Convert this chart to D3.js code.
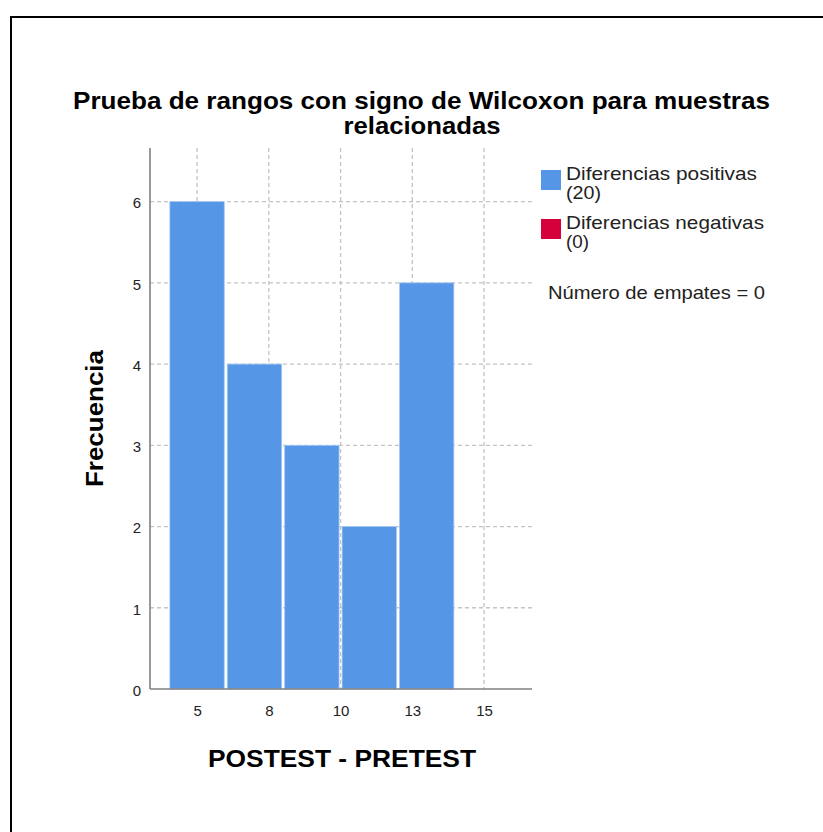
<!DOCTYPE html>
<html>
<head>
<meta charset="utf-8">
<script src="https://cdn.jsdelivr.net/npm/d3@7/dist/d3.min.js"></script>
<style>
  html, body { margin: 0; padding: 0; background: #fff; }
  svg { display: block; font-family: "Liberation Sans", Arial, sans-serif; }
</style>
</head>
<body>
<svg id="chart" width="823" height="832"></svg>
<script>
// Histogram bins of the signed differences (POSTEST - PRETEST)
const binStarts = [4, 6, 8, 10, 12];
const binWidth = 2;
const positiveCounts = [6, 4, 3, 2, 5];
const negativeCounts = [0, 0, 0, 0, 0];

// Axis ticks
const xTickValues = [5, 7.5, 10, 12.5, 15];
const xTickLabels = ["5", "8", "10", "13", "15"];
const yTickValues = [0, 1, 2, 3, 4, 5, 6];

// Legend
const legendLabels = [["Diferencias positivas", "(20)"], ["Diferencias negativas", "(0)"]];
const legendColors = ["#5596e6", "#d5003b"];
const tiesNote = "Número de empates = 0";

const svg = d3.select("#chart");

// Outer frame
svg.append("rect")
  .attr("x", 11).attr("y", 17).attr("width", 900).attr("height", 900)
  .attr("fill", "none").attr("stroke", "#000").attr("stroke-width", 2);

const plot = { left: 150, right: 532, top: 148, bottom: 689 };

const x = d3.scaleLinear().domain([3.36, 16.67]).range([plot.left, plot.right]);
const y = d3.scaleLinear().domain([0, 6.66]).range([plot.bottom, plot.top]);

// Helper: text stretched to a fixed width
function fitText(sel, len) {
  return sel.attr("textLength", len).attr("lengthAdjust", "spacingAndGlyphs");
}

// Grid
const grid = svg.append("g").attr("stroke", "#c4c4c4").attr("stroke-width", 1.3)
  .attr("stroke-dasharray", "4,3");
grid.selectAll("line.v").data(xTickValues).join("line")
  .attr("x1", d => x(d)).attr("x2", d => x(d))
  .attr("y1", plot.top).attr("y2", plot.bottom);
grid.selectAll("line.h").data(yTickValues.filter(d => d > 0)).join("line")
  .attr("x1", plot.left).attr("x2", plot.right)
  .attr("y1", d => y(d)).attr("y2", d => y(d));

// Bars: positive differences
const bins = binStarts.map((s, i) => ({ x0: s, x1: s + binWidth, pos: positiveCounts[i], neg: negativeCounts[i] }));
svg.append("g").selectAll("rect").data(bins.filter(d => d.pos > 0)).join("rect")
  .attr("x", d => x(d.x0) + 1.5)
  .attr("width", d => x(d.x1) - x(d.x0) - 3)
  .attr("y", d => y(d.pos))
  .attr("height", d => y(0) - y(d.pos))
  .attr("fill", legendColors[0])
  .attr("stroke", "#a8c8f2").attr("stroke-width", 0.8);

// Bars: negative differences (stacked on top)
svg.append("g").selectAll("rect").data(bins.filter(d => d.neg > 0)).join("rect")
  .attr("x", d => x(d.x0) + 1.5)
  .attr("width", d => x(d.x1) - x(d.x0) - 3)
  .attr("y", d => y(d.pos + d.neg))
  .attr("height", d => y(d.pos) - y(d.pos + d.neg))
  .attr("fill", legendColors[1]);

// Axes
const xAxis = d3.axisBottom(x).tickValues(xTickValues)
  .tickFormat((d, i) => xTickLabels[i]).tickSize(0).tickPadding(16);
const gx = svg.append("g").attr("transform", `translate(0,${plot.bottom})`).call(xAxis);
gx.select(".domain").attr("stroke", "#808080").attr("stroke-width", 1.6)
  .attr("d", `M${plot.left},0H${plot.right}`);
gx.selectAll("text").attr("font-size", 15).attr("fill", "#222")
  .attr("font-family", "Liberation Sans, Arial, sans-serif");

const yAxis = d3.axisLeft(y).tickValues(yTickValues).tickFormat(d3.format("d"))
  .tickSize(0).tickPadding(9);
const gy = svg.append("g").attr("transform", `translate(${plot.left},0)`).call(yAxis);
gy.select(".domain").attr("stroke", "#808080").attr("stroke-width", 1.6)
  .attr("d", `M0,${plot.top}V${plot.bottom}`);
gy.selectAll("text").attr("font-size", 15).attr("fill", "#222")
  .attr("dy", "0.42em")
  .attr("font-family", "Liberation Sans, Arial, sans-serif");

// Title
const title = svg.append("text").attr("text-anchor", "middle")
  .attr("font-size", 24).attr("font-weight", "bold").attr("fill", "#000");
fitText(title.append("tspan").attr("x", 421.5).attr("y", 109)
  .text("Prueba de rangos con signo de Wilcoxon para muestras"), 697);
fitText(title.append("tspan").attr("x", 422).attr("y", 134).text("relacionadas"), 157);

// Axis titles
fitText(svg.append("text").attr("x", 342).attr("y", 767).attr("text-anchor", "middle")
  .attr("font-size", 24).attr("font-weight", "bold").text("POSTEST - PRETEST"), 268);
fitText(svg.append("text").attr("transform", "translate(103,418.5) rotate(-90)")
  .attr("text-anchor", "middle").attr("font-size", 24).attr("font-weight", "bold")
  .text("Frecuencia"), 137);

// Legend
const legendWidths = [[191, 35], [198, 23]];
const leg = svg.append("g");
legendLabels.forEach((lines, i) => {
  const top = 170 + i * 49;
  leg.append("rect").attr("x", 541).attr("y", top).attr("width", 20).attr("height", 20)
    .attr("fill", legendColors[i]);
  const t = leg.append("text").attr("font-size", 18.5).attr("fill", "#222");
  fitText(t.append("tspan").attr("x", 566).attr("y", top + 10).text(lines[0]), legendWidths[i][0]);
  fitText(t.append("tspan").attr("x", 566).attr("y", top + 29).text(lines[1]), legendWidths[i][1]);
});
fitText(leg.append("text").attr("x", 548).attr("y", 299).attr("font-size", 18.5).attr("fill", "#222")
  .text(tiesNote), 217);
</script>
</body>
</html>
